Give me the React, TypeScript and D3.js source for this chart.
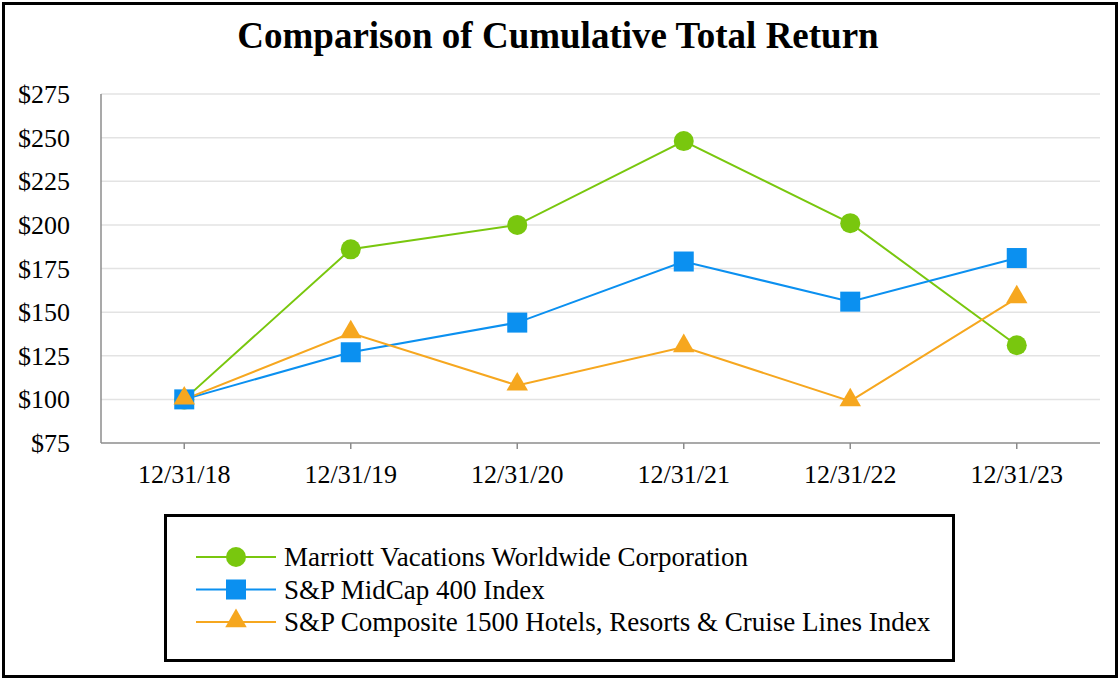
import React from "react";
import * as d3 from "d3";

const categories = ["12/31/18", "12/31/19", "12/31/20", "12/31/21", "12/31/22", "12/31/23"];
const marriott = [100, 186, 200, 248, 201, 131];
const midcap = [100, 127, 144, 179, 156, 181];
const hotels = [100, 138, 108, 130, 99, 158];
const yTicks = [75, 100, 125, 150, 175, 200, 225, 250, 275];
const seriesNames = [
  "Marriott Vacations Worldwide Corporation",
  "S&P MidCap 400 Index",
  "S&P Composite 1500 Hotels, Resorts & Cruise Lines Index",
];

const W = 1120;
const H = 680;
const FONT = "'Liberation Serif', 'Times New Roman', serif";

const series = [
  { name: seriesNames[0], values: marriott, color: "#79C70E", shape: "circle" },
  { name: seriesNames[1], values: midcap, color: "#0B90F0", shape: "square" },
  { name: seriesNames[2], values: hotels, color: "#F6A71F", shape: "triangle" },
];

function Marker({ shape, x, y, color }: { shape: string; x: number; y: number; color: string }) {
  if (shape === "circle") return <circle cx={x} cy={y} r={10} fill={color} />;
  if (shape === "square") return <rect x={x - 10} y={y - 10} width={20} height={20} fill={color} />;
  const p = d3.symbol().type(d3.symbolTriangle).size(200)();
  return <path d={p || ""} transform={`translate(${x},${y - 1})`} fill={color} />;
}

export default function App() {
  const left = 101, right = 1100, top = 94, bottom = 443;
  const x = d3.scaleBand<string>().domain(categories).range([left, right]);
  const y = d3.scaleLinear().domain([75, 275]).range([bottom, top]);
  const cx = (c: string) => (x(c) as number) + x.bandwidth() / 2;
  const line = d3
    .line<number>()
    .x((_, i) => cx(categories[i]))
    .y((v) => y(v));

  return (
    <svg width={W} height={H} style={{ position: "absolute", left: 0, top: 0, fontFamily: FONT }}>
      <rect x={0} y={0} width={W} height={H} fill="#fff" />
      <rect x={3.5} y={3.5} width={W - 7} height={H - 7} fill="none" stroke="#000" strokeWidth={3} />
      <text x={558} y={48} textAnchor="middle" fontSize={37} fontWeight="bold" fill="#000">
        Comparison of Cumulative Total Return
      </text>
      {yTicks.map((t) => (
        <g key={t}>
          {t !== 75 && (
            <line x1={left} x2={right} y1={y(t)} y2={y(t)} stroke="#e3e3e3" strokeWidth={1.5} />
          )}
          <text x={70} y={y(t) + 9} textAnchor="end" fontSize={26} fill="#000">
            ${t}
          </text>
        </g>
      ))}
      <line x1={left} x2={left} y1={top} y2={bottom} stroke="#8c8c8c" strokeWidth={1.5} />
      <line x1={left} x2={right} y1={bottom} y2={bottom} stroke="#8c8c8c" strokeWidth={1.5} />
      {categories.map((c) => (
        <g key={c}>
          <line x1={cx(c)} x2={cx(c)} y1={bottom} y2={bottom + 6} stroke="#8c8c8c" strokeWidth={1.5} />
          <text x={cx(c)} y={483} textAnchor="middle" fontSize={26} fill="#000">
            {c}
          </text>
        </g>
      ))}
      {series.map((s) => (
        <path key={s.name + "l"} d={line(s.values) || ""} fill="none" stroke={s.color} strokeWidth={2} />
      ))}
      {series.map((s) => (
        <g key={s.name + "m"}>
          {s.values.map((v, i) => (
            <Marker key={i} shape={s.shape} x={cx(categories[i])} y={y(v)} color={s.color} />
          ))}
        </g>
      ))}
      <rect x={165.5} y={515.5} width={788} height={145} fill="none" stroke="#000" strokeWidth={3} />
      {series.map((s, i) => {
        const ly = 557 + i * 32.5;
        return (
          <g key={s.name + "leg"}>
            <line x1={196} x2={276} y1={ly} y2={ly} stroke={s.color} strokeWidth={2} />
            <Marker shape={s.shape} x={236} y={ly} color={s.color} />
            <text x={284} y={ly + 9} fontSize={27} fill="#000">
              {s.name}
            </text>
          </g>
        );
      })}
    </svg>
  );
}
